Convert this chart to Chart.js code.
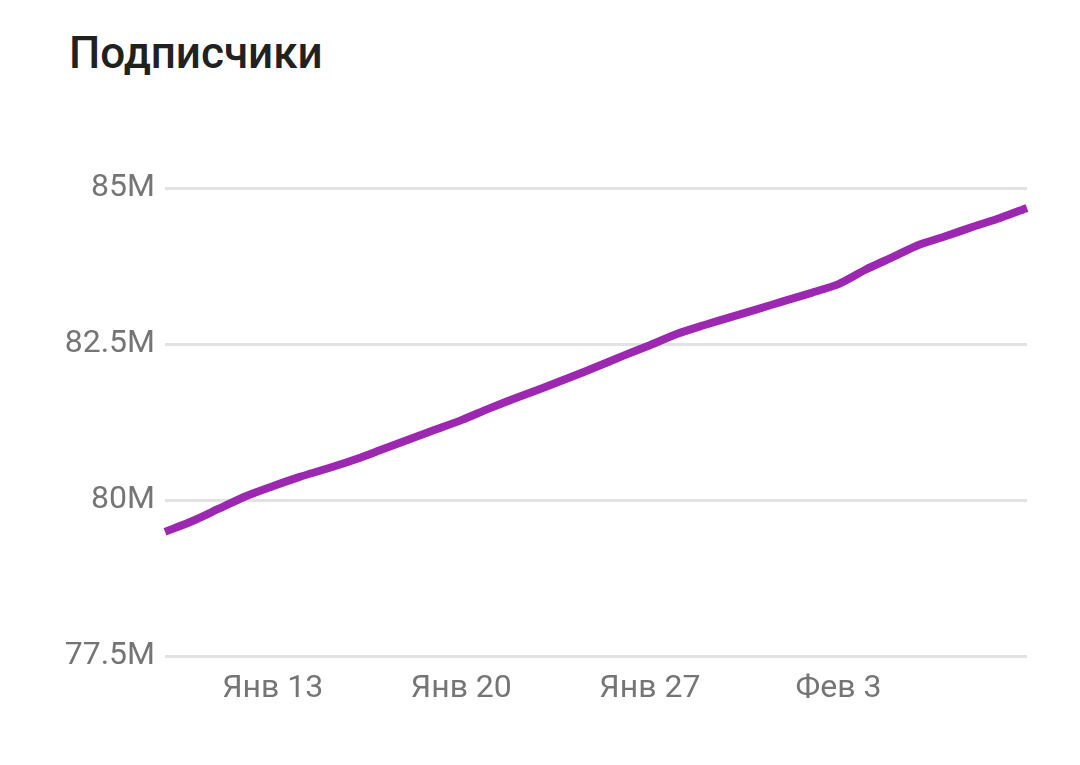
<!DOCTYPE html>
<html>
<head>
<meta charset="utf-8">
<script src="https://cdn.jsdelivr.net/npm/chart.js@4"></script>
<style>
  html, body { margin: 0; padding: 0; background: #fff; }
  #wrap { position: relative; width: 1080px; height: 765px; }
  #title { position: absolute; left: 69px; top: 31px; font-family: Roboto, sans-serif; font-weight: 500; font-size: 44px; line-height: 44px; color: #212121; }
  canvas { position: absolute; left: 0; top: 0; }
</style>
</head>
<body>
<div id="wrap">
  <div id="title">Подписчики</div>
  <canvas id="c" width="1080" height="765"></canvas>
</div>
<script>
const dates = ['Янв 9','Янв 10','Янв 11','Янв 12','Янв 13','Янв 14','Янв 15','Янв 16','Янв 17','Янв 18','Янв 19','Янв 20','Янв 21','Янв 22','Янв 23','Янв 24','Янв 25','Янв 26','Янв 27','Янв 28','Янв 29','Янв 30','Янв 31','Фев 1','Фев 2','Фев 3','Фев 4','Фев 5','Фев 6','Фев 7','Фев 8','Фев 9','Фев 10'];
const subscribers = [79.49,79.66,79.86,80.06,80.22,80.37,80.50,80.64,80.80,80.96,81.12,81.28,81.46,81.63,81.79,81.96,82.13,82.31,82.48,82.66,82.80,82.93,83.06,83.19,83.32,83.46,83.69,83.89,84.09,84.23,84.38,84.52,84.68];
const shownTicks = ['Янв 13','Янв 20','Янв 27','Фев 3'];
const yTicks = [77.5, 80, 82.5, 85];

new Chart(document.getElementById('c'), {
  type: 'line',
  data: {
    labels: dates,
    datasets: [{
      data: subscribers,
      borderColor: '#9c27b0',
      borderWidth: 8,
      pointRadius: 0,
      tension: 0.25,
      fill: false
    }]
  },
  options: {
    responsive: false,
    animation: false,
    layout: { padding: { top: 188, right: 53, left: 0, bottom: 0 } },
    plugins: { legend: { display: false }, tooltip: { enabled: false } },
    scales: {
      x: {
        offset: false,
        grid: { display: false, drawTicks: false },
        border: { display: false },
        afterFit: s => { s.height = 109; },
        ticks: {
          autoSkip: false, maxRotation: 0, padding: 14,
          color: '#757575', font: { family: 'Roboto', size: 32 },
          callback: function(v) { const l = this.getLabelForValue(v); return shownTicks.includes(l) ? l : ''; }
        }
      },
      y: {
        min: yTicks[0], max: yTicks[yTicks.length - 1],
        afterFit: s => { s.width = 165; },
        afterBuildTicks: s => { s.ticks = yTicks.map(v => ({ value: v })); },
        grid: { color: '#e2e2e2', lineWidth: 3, drawTicks: false },
        border: { display: false },
        ticks: {
          padding: 10, color: '#757575', font: { family: 'Roboto', size: 32 },
          callback: v => v + 'M'
        }
      }
    }
  }
});
</script>
</body>
</html>
